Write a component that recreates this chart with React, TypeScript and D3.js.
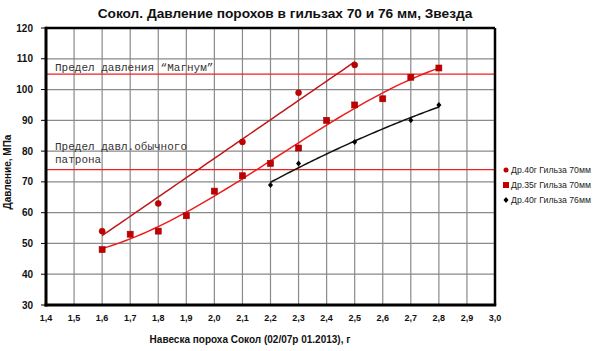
import React from "react";
import * as d3 from "d3";

const xTicks = [1.4, 1.5, 1.6, 1.7, 1.8, 1.9, 2.0, 2.1, 2.2, 2.3, 2.4, 2.5, 2.6, 2.7, 2.8, 2.9, 3.0];
const yTicks = [30, 40, 50, 60, 70, 80, 90, 100, 110, 120];

const s1x = [1.6, 1.8, 2.1, 2.3, 2.5];
const s1y = [54, 63, 83, 99, 108];
const s2x = [1.6, 1.7, 1.8, 1.9, 2.0, 2.1, 2.2, 2.3, 2.4, 2.5, 2.6, 2.7, 2.8];
const s2y = [48, 53, 54, 59, 67, 72, 76, 81, 90, 95, 97, 104, 107];
const s3x = [2.2, 2.3, 2.5, 2.7, 2.8];
const s3y = [69, 76, 83, 90, 95];

const limits = [105, 74];
const legendLabels = ["Др.40г Гильза 70мм", "Др.35г Гильза 70мм", "Др.40г Гильза 76мм"];

const W = 600, H = 351;
const L = 46, R = 495, T = 28, B = 305;

function polyFit(xs: number[], ys: number[], deg: number) {
  const n = deg + 1;
  const m = d3.mean(xs)!;
  const A: number[][] = Array.from({ length: n }, () => new Array(n + 1).fill(0));
  for (let k = 0; k < xs.length; k++) {
    const u = xs[k] - m;
    for (let i = 0; i < n; i++) {
      for (let j = 0; j < n; j++) A[i][j] += Math.pow(u, i + j);
      A[i][n] += ys[k] * Math.pow(u, i);
    }
  }
  for (let i = 0; i < n; i++) {
    let p = i;
    for (let r = i + 1; r < n; r++) if (Math.abs(A[r][i]) > Math.abs(A[p][i])) p = r;
    const tmp = A[i]; A[i] = A[p]; A[p] = tmp;
    for (let r = 0; r < n; r++) {
      if (r === i) continue;
      const f = A[r][i] / A[i][i];
      for (let c = i; c <= n; c++) A[r][c] -= f * A[i][c];
    }
  }
  const coef = A.map((row, i) => row[n] / row[i]);
  return (x: number) => coef.reduce((s, c, i) => s + c * Math.pow(x - m, i), 0);
}

export default function App() {
  const x = d3.scaleLinear().domain([1.4, 3.0]).range([L, R]);
  const y = d3.scaleLinear().domain([30, 120]).range([B, T]);
  const fmt = (v: number) => v.toFixed(1).replace(".", ",");

  const trend = (xs: number[], ys: number[], deg: number) => {
    const f = polyFit(xs, ys, deg);
    const x0 = d3.min(xs)!, x1 = d3.max(xs)!;
    const pts: [number, number][] = d3.range(0, 61).map((i) => {
      const xv = x0 + ((x1 - x0) * i) / 60;
      return [xv, f(xv)];
    });
    return d3.line<[number, number]>().x((d) => x(d[0])).y((d) => y(d[1]))(pts) || "";
  };

  const sans = "'Liberation Sans', Arial, sans-serif";
  const mono = "'Liberation Mono', 'Courier New', monospace";
  const c1 = "#c00000";
  const c1line = "#c01818";
  const c2line = "#ee1c1c";

  return (
    <svg width={W} height={H} style={{ position: "absolute", left: 0, top: 0, background: "#fff" }}>
      <rect x={0} y={0} width={W} height={H} fill="#fff" />
      <text x={285} y={18} textAnchor="middle" fontFamily={sans} fontWeight="bold" fontSize={13.7} fill="#111">
        Сокол. Давление порохов в гильзах 70 и 76 мм, Звезда
      </text>
      {/* grid */}
      {xTicks.map((t, i) => (
        <line key={"gx" + i} x1={x(t)} x2={x(t)} y1={T} y2={B} stroke="#8a8a8a" strokeWidth={1.2} />
      ))}
      {yTicks.map((t, i) => (
        <line key={"gy" + i} x1={L} x2={R} y1={y(t)} y2={y(t)} stroke="#8a8a8a" strokeWidth={1.2} />
      ))}
      {/* limit lines */}
      {limits.map((v, i) => (
        <line key={"lim" + i} x1={L} x2={R} y1={y(v)} y2={y(v)} stroke="#ee2020" strokeWidth={1.2} />
      ))}
      <text x={55} y={71} fontFamily={mono} fontSize={11} fill="#333">Предел давления “Магнум”</text>
      <text x={55} y={150} fontFamily={mono} fontSize={11} fill="#333">Предел давл.обычного</text>
      <text x={55} y={163} fontFamily={mono} fontSize={11} fill="#333">патрона</text>
      {/* trend lines */}
      <path d={trend(s1x, s1y, 1)} fill="none" stroke={c1line} strokeWidth={1.5} />
      <path d={trend(s2x, s2y, 3)} fill="none" stroke={c2line} strokeWidth={1.5} />
      <path d={trend(s3x, s3y, 2)} fill="none" stroke="#111" strokeWidth={1.5} />
      {/* markers */}
      {s1x.map((v, i) => (
        <circle key={"m1" + i} cx={x(v)} cy={y(s1y[i])} r={3} fill={c1} stroke="#a00000" strokeWidth={0.6} />
      ))}
      {s2x.map((v, i) => (
        <rect key={"m2" + i} x={x(v) - 3} y={y(s2y[i]) - 3} width={6} height={6} fill={c1} stroke="#a00000" strokeWidth={0.6} />
      ))}
      {s3x.map((v, i) => (
        <path key={"m3" + i} d={`M${x(v)},${y(s3y[i]) - 3}L${x(v) + 2.5},${y(s3y[i])}L${x(v)},${y(s3y[i]) + 3}L${x(v) - 2.5},${y(s3y[i])}Z`} fill="#000" />
      ))}
      {/* border */}
      <line x1={L} x2={R} y1={T} y2={T} stroke="#000" strokeWidth={2.5} />
      <line x1={R} x2={R} y1={T} y2={B} stroke="#000" strokeWidth={2.5} />
      <line x1={L} x2={L} y1={T - 1.25} y2={B + 1.5} stroke="#000" strokeWidth={3} />
      <line x1={L - 1.5} x2={R + 1.25} y1={B} y2={B} stroke="#000" strokeWidth={3} />
      {/* y ticks */}
      {yTicks.map((t, i) => (
        <g key={"yt" + i}>
          <line x1={L - 5} x2={L} y1={y(t)} y2={y(t)} stroke="#000" strokeWidth={1} />
          <text x={33} y={y(t) + 3.5} textAnchor="end" fontFamily={sans} fontWeight="bold" fontSize={10} fill="#111">
            {t}
          </text>
        </g>
      ))}
      {xTicks.map((t, i) => (
        <text key={"xt" + i} x={x(t)} y={321} textAnchor="middle" fontFamily={sans} fontWeight="bold" fontSize={9} fill="#111">
          {fmt(t)}
        </text>
      ))}
      <text x={250} y={343} textAnchor="middle" fontFamily={sans} fontWeight="bold" fontSize={10} fill="#111">
        Навеска пороха Сокол (02/07р 01.2013), г
      </text>
      <text transform={`translate(11,172) rotate(-90)`} textAnchor="middle" fontFamily={sans} fontWeight="bold" fontSize={10} fill="#111">
        Давление, МПа
      </text>
      {/* legend */}
      {legendLabels.map((lab, i) => {
        const ly = 170 + i * 15;
        return (
          <g key={"lg" + i}>
            {i === 0 && <circle cx={506} cy={ly} r={2.5} fill={c1} />}
            {i === 1 && <rect x={503} y={ly - 3} width={6} height={6} fill={c1} />}
            {i === 2 && <path d={`M506,${ly - 3}L508.5,${ly}L506,${ly + 3}L503.5,${ly}Z`} fill="#000" />}
            <text x={511} y={ly + 3.2} fontFamily={sans} fontSize={8.7} fill="#222">{lab}</text>
          </g>
        );
      })}
    </svg>
  );
}
